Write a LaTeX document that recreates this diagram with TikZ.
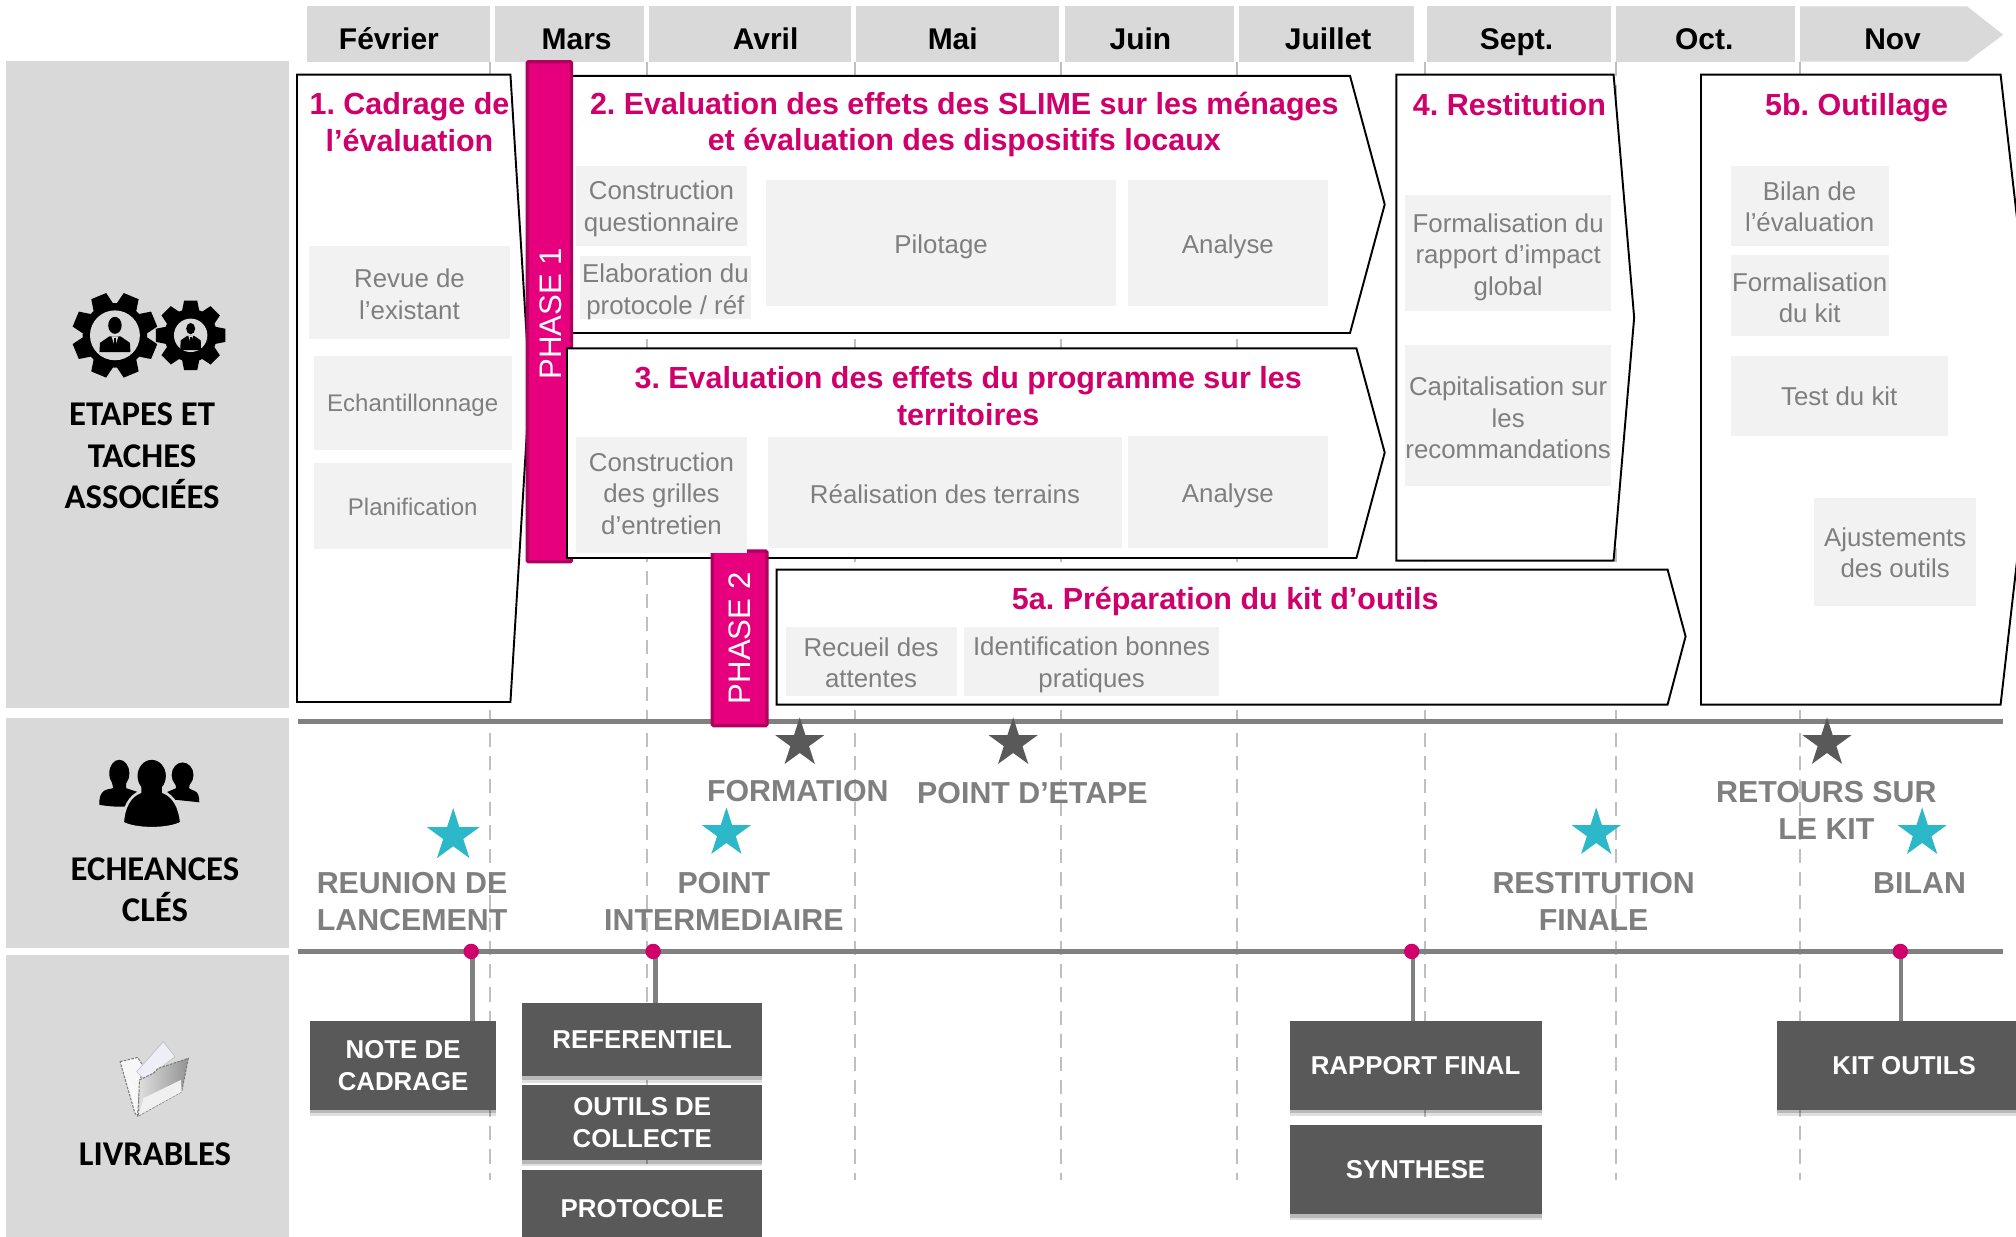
\documentclass[tikz,border=0pt]{standalone}
\usepackage{fontspec}
\setmainfont{Liberation Sans}
\newfontfamily\calfont{Carlito}
\usetikzlibrary{shapes.geometric,shadows}
\frenchspacing
\definecolor{panelgrey}{HTML}{D9D9D9}
\definecolor{taskgrey}{HTML}{F2F2F2}
\definecolor{txtgrey}{HTML}{7F7F7F}
\definecolor{darkbox}{HTML}{595959}
\definecolor{linegrey}{HTML}{808080}
\definecolor{dashgrey}{HTML}{BFBFBF}
\definecolor{titlepink}{HTML}{CF006B}
\definecolor{barpink}{HTML}{E6007E}
\definecolor{baredge}{HTML}{B0005F}
\definecolor{teal}{HTML}{2CB8C8}
\definecolor{paperlav}{HTML}{EEEEF6}
\tikzset{
  month/.style={fill=panelgrey,inner sep=0pt},
  monthlabel/.style={anchor=base,inner sep=0pt,font=\fontsize{23.3}{26}\selectfont\bfseries,text=black},
  panel/.style={fill=panelgrey,inner sep=0pt},
  panellabel/.style={font=\calfont\fontsize{27}{32.5}\selectfont\bfseries,align=center,text=black,inner sep=0pt},
  chevron/.style={draw=black,fill=white,line width=1.5pt,line join=miter},
  steptitle/.style={font=\fontsize{23.7}{28.4}\selectfont\bfseries,text=titlepink,align=center,inner sep=0pt},
  taskbox/.style={fill=taskgrey,inner sep=0pt},
  tasktext/.style={text=txtgrey,inner sep=0pt,align=center,font=\fontsize{20.1}{24.4}\selectfont},
  smalltext/.style={tasktext,font=\fontsize{18.7}{24.4}\selectfont},
  phasebar/.style={fill=barpink,draw=baredge,line width=2.5pt,rounded corners=1pt,inner sep=0pt},
  phasetext/.style={text=white,font=\fontsize{24.2}{26}\selectfont,rotate=90,inner sep=0pt},
  axis/.style={draw=linegrey,line width=4pt},
  monthdash/.style={draw=dashgrey,line width=1.6pt,dash pattern=on 11pt off 7pt},
  starred/.style={star,star points=5,star point ratio=2.618,inner sep=0pt,minimum size=40pt,fill=#1},
  keylabel/.style={font=\fontsize{23.6}{28.8}\selectfont\bfseries,text=txtgrey,align=center,inner sep=0pt},
  dot/.style={circle,fill=titlepink,inner sep=0pt,minimum size=12pt},
  conn/.style={draw=linegrey,line width=3.6pt},
  livrable/.style={fill=darkbox,text=white,inner sep=0pt,align=center,font=\fontsize{20.1}{25}\selectfont\bfseries,
    drop shadow={shadow xshift=0pt,shadow yshift=-5pt,opacity=.12,fill=black},
    drop shadow={shadow xshift=0pt,shadow yshift=-3pt,opacity=.18,fill=black}},
  folderedge/.style={draw=darkbox!80,line width=.8pt,dash pattern=on 2pt off 1pt}
}
\newcommand\rectnode[7]{\node[#1,minimum width={(#5-#3)*1pt},minimum height={(#6-#4)*1pt}] (#2) at ({(#3+#5)/2},{(#4+#6)/2}) {#7};}
% \taskrect[text style]{name}{x1}{y1}{x2}{y2}{downward text shift}{text}
\newcommand\taskrect[8][tasktext]{\rectnode{taskbox}{#2}{#3}{#4}{#5}{#6}{}\node[#1,yshift=-#7pt] (#2t) at (#2.center) {#8};}
% \gearicon{cx}{cy}{outer r}{teeth}{disc r}{tooth angle offset}{bust bottom}
\newcommand\gearicon[7]{%
  \fill[black] (#1,#2) circle ({#3*0.76});
  \foreach \a in {1,...,#4}{
    \fill[black,rotate around={\a*360/#4+#6:(#1,#2)}] ({#1-#3*0.25},{#2-#3*0.7}) -- ({#1-#3*0.19},{#2-#3}) -- ({#1+#3*0.19},{#2-#3}) -- ({#1+#3*0.25},{#2-#3*0.7}) -- cycle;
  }
  \fill[panelgrey] (#1,#2) circle (#5);
  \fill[black] (#1,{#2-0.4*#5}) ellipse ({0.27*#5} and {0.34*#5});
  \fill[black] ({#1-0.62*#5},{#2+#7*#5}) -- ({#1-0.6*#5},{#2+0.3*#5}) -- ({#1-0.22*#5},{#2+0.04*#5}) -- ({#1+0.22*#5},{#2+0.04*#5}) -- ({#1+0.6*#5},{#2+0.3*#5}) -- ({#1+0.62*#5},{#2+#7*#5}) -- cycle;
  \fill[panelgrey] ({#1-0.14*#5},{#2+0.04*#5}) -- ({#1+0.14*#5},{#2+0.04*#5}) -- (#1,{#2+0.46*#5}) -- cycle;
  \fill[black] ({#1-0.05*#5},{#2+0.1*#5}) rectangle ({#1+0.05*#5},{#2+0.56*#5});
}
\begin{document}
\begin{tikzpicture}[x=1pt,y=-1pt]
\useasboundingbox (0,0) rectangle (1568,962.1);
\clip (0,0) rectangle (1568,962.1);
% month guides
\foreach \mx/\nm in {381/a,503/b,665/c,825/d,962/e,1108/f,1257/g,1400/h}{
  \coordinate (dt\nm) at (\mx,48);
  \coordinate (db\nm) at (\mx,918);
  \draw[monthdash] (dt\nm) -- (db\nm);
}
% months
\rectnode{month}{mfev}{239}{5}{381}{48}{}
\rectnode{month}{mmar}{385}{5}{501}{48}{}
\rectnode{month}{mavr}{505}{5}{662}{48}{}
\rectnode{month}{mmai}{666}{5}{824}{48}{}
\rectnode{month}{mjun}{828}{5}{960}{48}{}
\rectnode{month}{mjul}{964}{5}{1100}{48}{}
\rectnode{month}{msep}{1110}{5}{1253}{48}{}
\rectnode{month}{moct}{1257}{5}{1396}{48}{}
\fill[panelgrey] (1400,5) -- (1530,5) -- (1558,27) -- (1530,48) -- (1400,48) -- cycle;
\node[monthlabel] (lfev) at (302.5,38.5) {Février};
\node[monthlabel] (lmar) at (448.5,38.5) {Mars};
\node[monthlabel] (lavr) at (595.5,38.5) {Avril};
\node[monthlabel] (lmai) at (741,38.5) {Mai};
\node[monthlabel] (ljun) at (887,38.5) {Juin};
\node[monthlabel] (ljul) at (1033,38.5) {Juillet};
\node[monthlabel] (lsep) at (1179.5,38.5) {Sept.};
\node[monthlabel] (loct) at (1325.5,38.5) {Oct.};
\node[monthlabel] (lnov) at (1472,38.5) {Nov};
% left panels
\rectnode{panel}{petapes}{5}{47.5}{225}{551}{}
\rectnode{panel}{pech}{5}{558.5}{225}{737}{}
\rectnode{panel}{pliv}{5}{742.5}{225}{962.1}{}
\node[panellabel] (letapes) at (110.5,354.5) {ETAPES ET\\TACHES\\ASSOCIÉES};
\node[panellabel] (lech) at (120.5,692) {ECHEANCES\\CLÉS};
\node[panellabel] (lliv) at (120.5,898) {LIVRABLES};
% gears
\gearicon{89.4}{260.8}{33}{8}{19.4}{22.5}{0.67}
\gearicon{148.3}{260.8}{27}{8}{13}{0}{0.88}
% people
\fill[black] (92.8,601.5) ellipse (7.8 and 10.6);
\fill[black] (87,608) -- (88,613) .. controls (84,614) and (82,614) .. (81,615) .. controls (78,617) and (77,621) .. (77.3,626) .. controls (84,627) and (92,628) .. (100,627) -- (107,616) -- (98,613) -- (98,608) -- cycle;
\fill[black] (142,602.8) ellipse (8.5 and 9.8);
\fill[black] (136,608) -- (137,613) -- (130,616) -- (136,622) -- (155,624) .. controls (155,619) and (154,616) .. (151,615) .. controls (149,614) and (148,614) .. (147,613) -- (148,608) -- cycle;
\path[fill=black,draw=panelgrey,line width=2pt] (109,609) -- (109,616) .. controls (101,619) and (96,628) .. (95.5,640) .. controls (105,645.5) and (131,645.5) .. (141,640) .. controls (140,628) and (135,619) .. (127,616) -- (127,609) -- cycle;
\fill[black] (118,603.5) ellipse (11 and 12.5);
% folder
\path[fill=white!80!panelgrey,folderedge] (93.4,825.7) -- (107,822.5) -- (112,830) -- (109,840) -- (107,868) -- (105,866) -- cycle;
\path[fill=paperlav,draw=gray!50,line width=.5pt] (106.3,833.5) -- (127,810.2) -- (136.2,821.8) -- (119.3,834.8) -- (111.5,838.7) -- cycle;
\path[left color=white!75!gray,middle color=gray!70,right color=gray!85,folderedge] (108.4,840) -- (119.3,834.8) -- (123.2,830.9) -- (146.5,823.1) -- (141.3,849.1) -- (107.6,868) -- cycle;
\fill[white!88!gray] (111.5,854.2) -- (140.6,840) -- (141.3,849.1) -- (108,867.5) -- cycle;
% chevrons
\path[chevron] (231,58) -- (397,58) -- (412,300) -- (397,546) -- (231,546) -- cycle;
\path[chevron] (430,59) -- (1050,59) -- (1077,159) -- (1050,259) -- (430,259) -- cycle;
\path[chevron] (1086,58) -- (1255,58) -- (1271,247) -- (1255,436) -- (1086,436) -- cycle;
\path[chevron] (1323,58) -- (1556,58) -- (1584,303) -- (1556,548) -- (1323,548) -- cycle;
\path[chevron] (604,443) -- (1297,443) -- (1311,495) -- (1297,548) -- (604,548) -- cycle;
% phase 1 bar sits under step 3
\rectnode{phasebar}{phaseone}{410}{48}{444.5}{437}{}
\path[chevron] (441,271) -- (1055,271) -- (1077,352) -- (1055,434) -- (441,434) -- cycle;
\node[phasetext] (phaseonet) at (428,244) {PHASE 1};
% axes
\coordinate (axaw) at (232,561);
\coordinate (axae) at (1558,561);
\coordinate (axbw) at (232,740);
\coordinate (axbe) at (1558,740);
\draw[axis] (axaw) -- (axae);
\draw[axis] (axbw) -- (axbe);
\rectnode{phasebar}{phasetwo}{554}{428.5}{596.5}{564.5}{}
\node[phasetext] (phasetwot) at (575,496.5) {PHASE 2};
% step titles
\node[steptitle] (t1) at (318.5,95) {1. Cadrage de\\l’évaluation};
\node[steptitle] (t2) at (750,97) {2. Evaluation des effets des SLIME sur les ménages\\et évaluation des dispositifs locaux};
\node[steptitle] (t3) at (753,308) {3. Evaluation des effets du programme sur les\\territoires};
\node[steptitle] (t4) at (1174,81) {4. Restitution};
\node[steptitle] (t5b) at (1444,84) {5b. Outillage};
\node[steptitle] (t5a) at (953,468) {5a. Préparation du kit d’outils};
% tasks
\taskrect{a1}{240}{191}{397}{264}{1.5}{Revue de\\l’existant}
\taskrect[smalltext]{a2}{244}{277}{398}{350}{2}{Echantillonnage}
\taskrect[smalltext]{a3}{244}{360}{398}{427}{1}{Planification}
\taskrect{b1}{448}{129}{581}{191}{2.5}{Construction\\questionnaire}
\taskrect{b2}{451}{199}{584}{248}{3.5}{Elaboration du\\protocole / réf}
\taskrect{b3}{596}{140}{868}{238}{3}{Pilotage}
\taskrect{b4}{877}{140}{1033}{238}{3}{Analyse}
\taskrect{c1}{448}{340}{581}{430}{-1}{Construction\\des grilles\\d’entretien}
\taskrect{c2}{597}{340}{873}{426}{1}{Réalisation des terrains}
\taskrect{c3}{877}{339}{1033}{426}{3}{Analyse}
\taskrect{d1}{1093}{152}{1253}{242}{3}{Formalisation du\\rapport d’impact\\global}
\taskrect{d2}{1093}{268}{1253}{378}{2}{Capitalisation sur\\les\\recommandations}
\taskrect{e1}{1346}{129}{1469}{191}{1}{Bilan de\\l’évaluation}
\taskrect{e2}{1346}{198}{1469}{261}{2}{Formalisation\\du kit}
\taskrect{e3}{1346}{277}{1515}{339}{0}{Test du kit}
\taskrect{e4}{1411}{387}{1537}{471}{1}{Ajustements\\des outils}
\taskrect{f1}{611}{488}{744}{541}{1}{Recueil des\\attentes}
\taskrect{f2}{750}{488}{948}{541}{2.5}{Identification bonnes\\pratiques}
% milestones
\node[starred=darkbox] (s1) at (622,578) {};
\node[starred=darkbox] (s2) at (788,578) {};
\node[starred=darkbox] (s3) at (1421,578) {};
\node[starred=teal,minimum size=43pt] (s4) at (352.5,650) {};
\node[starred=teal] (s5) at (565,648) {};
\node[starred=teal] (s6) at (1241.5,648) {};
\node[starred=teal] (s7) at (1495,648) {};
\node[keylabel] (k1) at (620.5,615.5) {FORMATION};
\node[keylabel] (k2) at (803,617) {POINT D’ETAPE};
\node[keylabel] (k3) at (1420.5,630) {RETOURS SUR\\LE KIT};
\node[keylabel] (k4) at (320.5,701) {REUNION DE\\LANCEMENT};
\node[keylabel] (k5) at (563,701) {POINT\\INTERMEDIAIRE};
\node[keylabel] (k6) at (1239.5,701) {RESTITUTION\\FINALE};
\node[keylabel] (k7) at (1493,686.5) {BILAN};
% deliverables
\rectnode{livrable}{l1}{241}{794}{386}{863}{NOTE DE\\CADRAGE}
\rectnode{livrable}{l2}{406}{780}{593}{837}{REFERENTIEL}
\rectnode{livrable}{l3}{406}{844}{593}{902}{OUTILS DE\\COLLECTE}
\rectnode{livrable}{l4}{406}{910}{593}{970}{PROTOCOLE}
\rectnode{livrable}{l5}{1003}{794}{1199}{863}{RAPPORT FINAL}
\rectnode{livrable}{l6}{1003}{875}{1199}{944}{SYNTHESE}
\rectnode{livrable}{l7}{1382}{794}{1580}{863}{KIT OUTILS}
\coordinate (dcA) at (367.5,740);
\coordinate (dcB) at (510,740);
\coordinate (dcC) at (1099,740);
\coordinate (dcD) at (1478.5,740);
\draw[conn] (dcA) -- (dcA |- l1.north);
\draw[conn] (dcB) -- (dcB |- l2.north);
\draw[conn] (dcC) -- (dcC |- l5.north);
\draw[conn] (dcD) -- (dcD |- l7.north);
\node[dot] (p1) at (366.5,740) {};
\node[dot] (p2) at (508,740) {};
\node[dot] (p3) at (1098,740) {};
\node[dot] (p4) at (1478,740) {};
\end{tikzpicture}
\end{document}
